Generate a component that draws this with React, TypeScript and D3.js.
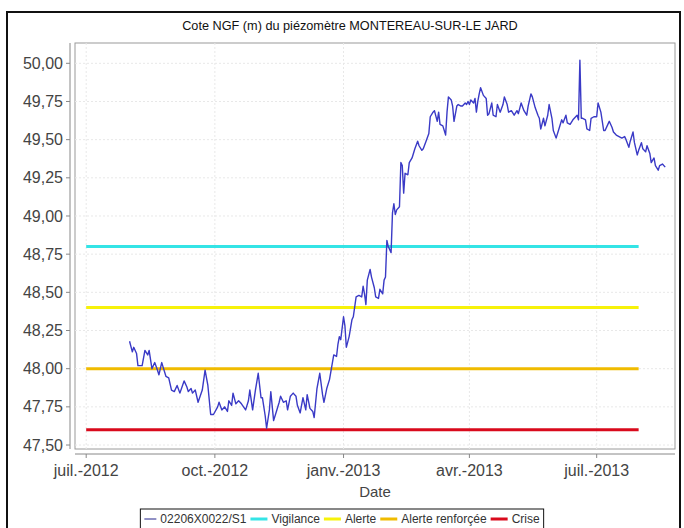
import React from 'react';
import * as d3 from 'd3';

// chart texts
const title = 'Cote NGF (m) du piézomètre MONTEREAU-SUR-LE JARD';
const xTitle = 'Date';
const seriesName = '02206X0022/S1';

// piezometer readings (m NGF)
const dates = [
  '2012-08-01', '2012-08-03', '2012-08-04', '2012-08-06', '2012-08-07', '2012-08-10', '2012-08-12', '2012-08-14',
  '2012-08-15', '2012-08-17', '2012-08-19', '2012-08-21', '2012-08-22', '2012-08-24', '2012-08-25', '2012-08-27',
  '2012-08-29', '2012-08-31', '2012-09-02', '2012-09-04', '2012-09-06', '2012-09-09', '2012-09-11', '2012-09-12',
  '2012-09-14', '2012-09-15', '2012-09-17', '2012-09-19', '2012-09-22', '2012-09-24', '2012-09-26', '2012-09-28',
  '2012-09-30', '2012-10-03', '2012-10-04', '2012-10-06', '2012-10-08', '2012-10-10', '2012-10-11', '2012-10-13',
  '2012-10-14', '2012-10-16', '2012-10-18', '2012-10-20', '2012-10-23', '2012-10-25', '2012-10-26', '2012-10-28',
  '2012-10-30', '2012-11-01', '2012-11-03', '2012-11-04', '2012-11-06', '2012-11-07', '2012-11-09', '2012-11-10',
  '2012-11-12', '2012-11-14', '2012-11-16', '2012-11-17', '2012-11-19', '2012-11-21', '2012-11-22', '2012-11-24',
  '2012-11-26', '2012-11-28', '2012-11-29', '2012-12-01', '2012-12-03', '2012-12-05', '2012-12-06', '2012-12-08',
  '2012-12-10', '2012-12-11', '2012-12-13', '2012-12-15', '2012-12-17', '2012-12-18', '2012-12-20', '2012-12-22',
  '2012-12-25', '2012-12-27', '2012-12-28', '2012-12-29', '2012-12-30', '2013-01-01', '2013-01-02', '2013-01-03',
  '2013-01-05', '2013-01-07', '2013-01-08', '2013-01-10', '2013-01-12', '2013-01-14', '2013-01-15', '2013-01-16',
  '2013-01-17', '2013-01-18', '2013-01-20', '2013-01-21', '2013-01-23', '2013-01-24', '2013-01-26', '2013-01-27',
  '2013-01-29', '2013-01-30', '2013-01-31', '2013-02-01', '2013-02-02', '2013-02-04', '2013-02-05', '2013-02-06',
  '2013-02-07', '2013-02-08', '2013-02-10', '2013-02-11', '2013-02-12', '2013-02-13', '2013-02-14', '2013-02-16',
  '2013-02-17', '2013-02-19', '2013-02-21', '2013-02-23', '2013-02-24', '2013-02-26', '2013-02-27', '2013-03-01',
  '2013-03-03', '2013-03-04', '2013-03-06', '2013-03-07', '2013-03-09', '2013-03-10', '2013-03-11', '2013-03-13',
  '2013-03-15', '2013-03-16', '2013-03-17', '2013-03-19', '2013-03-20', '2013-03-21', '2013-03-23', '2013-03-24',
  '2013-03-26', '2013-03-27', '2013-03-29', '2013-03-30', '2013-03-31', '2013-04-01', '2013-04-02', '2013-04-04',
  '2013-04-05', '2013-04-06', '2013-04-07', '2013-04-08', '2013-04-09', '2013-04-11', '2013-04-13', '2013-04-14',
  '2013-04-15', '2013-04-17', '2013-04-18', '2013-04-20', '2013-04-21', '2013-04-23', '2013-04-25', '2013-04-26',
  '2013-04-28', '2013-04-29', '2013-05-01', '2013-05-03', '2013-05-05', '2013-05-06', '2013-05-08', '2013-05-10',
  '2013-05-12', '2013-05-13', '2013-05-15', '2013-05-16', '2013-05-18', '2013-05-20', '2013-05-21', '2013-05-22',
  '2013-05-24', '2013-05-25', '2013-05-27', '2013-05-28', '2013-05-30', '2013-05-31', '2013-06-02', '2013-06-04',
  '2013-06-06', '2013-06-07', '2013-06-09', '2013-06-10', '2013-06-12', '2013-06-14', '2013-06-15', '2013-06-17',
  '2013-06-18', '2013-06-19', '2013-06-20', '2013-06-21', '2013-06-23', '2013-06-24', '2013-06-26', '2013-06-27',
  '2013-06-29', '2013-07-01', '2013-07-02', '2013-07-04', '2013-07-06', '2013-07-07', '2013-07-09', '2013-07-10',
  '2013-07-12', '2013-07-13', '2013-07-15', '2013-07-17', '2013-07-19', '2013-07-21', '2013-07-22', '2013-07-24',
  '2013-07-25', '2013-07-27', '2013-07-28', '2013-07-30', '2013-07-31', '2013-08-02', '2013-08-03', '2013-08-05',
  '2013-08-06', '2013-08-08', '2013-08-09', '2013-08-11', '2013-08-12', '2013-08-14', '2013-08-15', '2013-08-17',
  '2013-08-19',
];
const levels = [
  48.18, 48.11, 48.14, 48.10, 48.02, 48.02, 48.12, 48.09,
  48.12, 48.00, 48.04, 47.99, 47.96, 48.04, 48.01, 47.95,
  47.94, 47.86, 47.85, 47.89, 47.84, 47.92, 47.88, 47.85,
  47.87, 47.84, 47.86, 47.78, 47.86, 47.99, 47.89, 47.70,
  47.70, 47.75, 47.78, 47.73, 47.75, 47.72, 47.79, 47.76,
  47.84, 47.77, 47.79, 47.77, 47.73, 47.79, 47.86, 47.73,
  47.86, 47.97, 47.81, 47.81, 47.69, 47.61, 47.73, 47.85,
  47.66, 47.72, 47.78, 47.82, 47.78, 47.79, 47.73, 47.82,
  47.84, 47.82, 47.76, 47.71, 47.81, 47.73, 47.83, 47.74,
  47.72, 47.68, 47.87, 47.97, 47.83, 47.78, 47.87, 47.93,
  48.09, 48.08, 48.16, 48.21, 48.19, 48.34, 48.28, 48.14,
  48.21, 48.32, 48.34, 48.47, 48.48, 48.47, 48.54, 48.49,
  48.42, 48.58, 48.65, 48.60, 48.53, 48.47, 48.46, 48.52,
  48.49, 48.58, 48.60, 48.84, 48.80, 48.76, 49.02, 49.08,
  49.01, 49.04, 49.06, 49.35, 49.33, 49.15, 49.28, 49.27,
  49.35, 49.38, 49.44, 49.49, 49.46, 49.43, 49.44, 49.49,
  49.54, 49.65, 49.68, 49.69, 49.62, 49.68, 49.60, 49.59,
  49.53, 49.68, 49.78, 49.76, 49.72, 49.62, 49.72, 49.73,
  49.72, 49.72, 49.74, 49.73, 49.75, 49.73, 49.76, 49.74,
  49.77, 49.68, 49.75, 49.80, 49.84, 49.79, 49.77, 49.66,
  49.67, 49.74, 49.66, 49.65, 49.73, 49.68, 49.73, 49.78,
  49.73, 49.68, 49.69, 49.66, 49.69, 49.67, 49.74, 49.69,
  49.66, 49.72, 49.80, 49.78, 49.71, 49.66, 49.64, 49.57,
  49.64, 49.59, 49.66, 49.73, 49.64, 49.56, 49.51, 49.57,
  49.63, 49.61, 49.66, 49.61, 49.60, 49.63, 49.64, 49.66,
  49.63, 50.02, 49.64, 49.64, 49.63, 49.57, 49.56, 49.64,
  49.65, 49.65, 49.74, 49.68, 49.56, 49.56, 49.60, 49.62,
  49.58, 49.55, 49.53, 49.52, 49.51, 49.52, 49.50, 49.45,
  49.49, 49.55, 49.48, 49.40, 49.43, 49.48, 49.44, 49.42,
  49.46, 49.41, 49.35, 49.38, 49.33, 49.30, 49.33, 49.34,
  49.32,
];

// alert thresholds
const thresholdNames = ['Vigilance', 'Alerte', 'Alerte renforçée', 'Crise'];
const thresholdValues = [48.8, 48.4, 48.0, 47.6];
const thresholdStart = '2012-07-01';
const thresholdEnd = '2013-07-31';

// axes
const xDomain = ['2012-06-23', '2013-08-26'];
const xTicks = ['2012-07-01', '2012-10-01', '2013-01-01', '2013-04-01', '2013-07-01'];
const xTickLabels = ['juil.-2012', 'oct.-2012', 'janv.-2013', 'avr.-2013', 'juil.-2013'];
const yDomain = [47.474, 50.133];
const yTicks = [47.5, 47.75, 48.0, 48.25, 48.5, 48.75, 49.0, 49.25, 49.5, 49.75, 50.0];

const thresholdColors = ['#34e4e6', '#f7f20a', '#f0bb00', '#d90a1c'];
const seriesColor = '#3a3ac6';
const FONT = "'Liberation Sans', Arial, sans-serif";

const W = 684;
const H = 528;
const plot = { left: 75, right: 675, top: 43, bottom: 449 };

const parse = d3.timeParse('%Y-%m-%d');

function textWidth(s: string, size: number) {
  const ctx = document.createElement('canvas').getContext('2d');
  if (!ctx) return s.length * size * 0.55;
  ctx.font = `${size}px ${FONT}`;
  return ctx.measureText(s).width;
}

export default function App() {
  const x = d3.scaleTime()
    .domain(xDomain.map(d => parse(d) as Date))
    .range([plot.left, plot.right]);
  const y = d3.scaleLinear().domain(yDomain).range([plot.bottom, plot.top]);

  const points = dates.map((d, i) => [parse(d) as Date, levels[i]] as [Date, number]);
  const line = d3.line<[Date, number]>()
    .x(d => x(d[0]))
    .y(d => y(d[1]));

  const fmt = (v: number) => d3.format('.2f')(v).replace('.', ',');

  // legend layout
  const legendItems = [{ name: seriesName, color: '#22228a', thick: 1, symW: 12 }]
    .concat(thresholdNames.map((n, i) => ({ name: n, color: thresholdColors[i], thick: 3, symW: 17 })));
  let cursor = 0;
  const laid = legendItems.map(it => {
    const tw = textWidth(it.name, 12);
    const item = { ...it, x: cursor, tx: cursor + it.symW + 4 };
    cursor += it.symW + 4 + tw + 4;
    return item;
  });
  const legendW = cursor + 4;
  const legendX = 342 - legendW / 2;
  const legendY = 509;

  const axisY = plot.left - 5;
  const axisX = plot.bottom + 5;

  return (
    <svg width={W} height={H} style={{ position: 'absolute', left: 0, top: 0, background: '#fff' }}
      fontFamily={FONT}>
      <rect x={7} y={12} width={673} height={540} fill="#fff" stroke="#111" strokeWidth={2} />
      <text x={350} y={30} textAnchor="middle" fontSize={12.7} fill="#111">{title}</text>

      {/* plot area */}
      <rect x={plot.left} y={plot.top} width={plot.right - plot.left} height={plot.bottom - plot.top}
        fill="#fff" stroke="#9a9a9a" />
      {yTicks.map(t => (
        <line key={'gy' + t} x1={plot.left} x2={plot.right} y1={y(t)} y2={y(t)}
          stroke="#e8e8e8" strokeDasharray="2,2" />
      ))}
      {xTicks.map(t => (
        <line key={'gx' + t} x1={x(parse(t) as Date)} x2={x(parse(t) as Date)} y1={plot.top} y2={plot.bottom}
          stroke="#e8e8e8" strokeDasharray="2,2" />
      ))}

      {thresholdValues.map((v, i) => (
        <line key={'th' + i} x1={x(parse(thresholdStart) as Date)} x2={x(parse(thresholdEnd) as Date)}
          y1={y(v)} y2={y(v)} stroke={thresholdColors[i]} strokeWidth={3} />
      ))}
      <path d={line(points) || ''} fill="none" stroke={seriesColor} strokeWidth={1.4} strokeLinejoin="round" />

      {/* y axis */}
      <line x1={axisY} x2={axisY} y1={plot.top} y2={plot.bottom} stroke="#888" />
      {yTicks.map(t => (
        <g key={'yt' + t}>
          <line x1={axisY - 4} x2={axisY} y1={y(t)} y2={y(t)} stroke="#888" />
          <text x={axisY - 7} y={y(t)} dy="0.35em" textAnchor="end" fontSize={16} fill="#444">{fmt(t)}</text>
        </g>
      ))}

      {/* x axis */}
      <line x1={plot.left} x2={plot.right} y1={axisX} y2={axisX} stroke="#888" />
      {xTicks.map((t, i) => (
        <g key={'xt' + t}>
          <line x1={x(parse(t) as Date)} x2={x(parse(t) as Date)} y1={axisX} y2={axisX + 4} stroke="#888" />
          <text x={x(parse(t) as Date)} y={476} textAnchor="middle" fontSize={16} fill="#444">{xTickLabels[i]}</text>
        </g>
      ))}
      <text x={(plot.left + plot.right) / 2} y={497} textAnchor="middle" fontSize={15} fill="#444">{xTitle}</text>

      {/* legend */}
      <g transform={`translate(${legendX},${legendY})`}>
        <rect x={0} y={0} width={legendW} height={22} fill="#fff" stroke="#111" />
        {laid.map(it => (
          <g key={it.name} transform="translate(4,0)">
            <line x1={it.x} x2={it.x + it.symW} y1={10} y2={10} stroke={it.color} strokeWidth={it.thick} />
            <text x={it.tx} y={14} fontSize={12} fill="#333">{it.name}</text>
          </g>
        ))}
      </g>
    </svg>
  );
}
